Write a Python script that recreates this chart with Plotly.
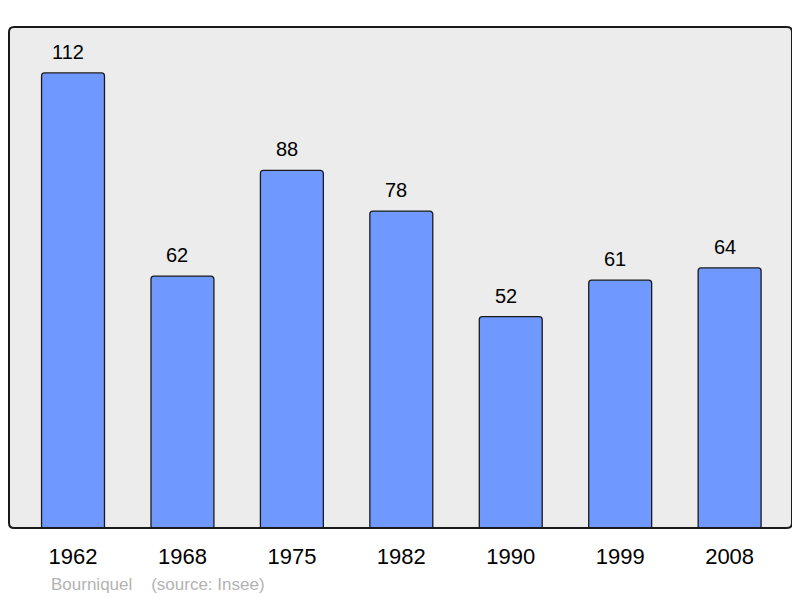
import plotly.graph_objects as go

years = ["1962", "1968", "1975", "1982", "1990", "1999", "2008"]
population = [112, 62, 88, 78, 52, 61, 64]
footer_text = "Bourniquel    (source: Insee)"

# the page body has an 8px margin, so the figure is drawn 8px smaller/shifted
OFF = 8
W, H = 800 - OFF, 598 - OFF
L, T = 9 - OFF, 27 - OFF
R = 800 - 792
B = 598 - 528
plot_w = W - L - R
plot_h = H - T - B

idx = list(range(len(years)))
FONT = "Liberation Sans, Arial, sans-serif"

fig = go.Figure()
fig.add_trace(go.Bar(
    x=idx, y=population,
    width=0.575,
    marker=dict(color="#7099ff", line=dict(color="#1a1a1a", width=1.3), cornerradius=3),
    hovertext=years, hoverinfo="text+y",
))

for i, v in zip(idx, population):
    fig.add_annotation(x=i, y=v, text=str(v), showarrow=False, yanchor="bottom",
                       yshift=8, xshift=-5, font=dict(size=20, color="#000000", family=FONT))

fig.add_annotation(xref="paper", yref="paper", x=(49 - 9) / plot_w, y=-(584 - 528) / plot_h,
                   xanchor="left", yanchor="middle", showarrow=False, text=footer_text,
                   font=dict(size=17, color="#b3b3b3", family=FONT))

# rounded frame (paper coordinates)
rad = 5
rx, ry = rad / plot_w, rad / plot_h
frame = (f"M {rx},0 L {1-rx},0 Q 1,0 1,{ry} L 1,{1-ry} Q 1,1 {1-rx},1 "
         f"L {rx},1 Q 0,1 0,{1-ry} L 0,{ry} Q 0,0 {rx},0 Z")
fig.add_shape(type="path", xref="paper", yref="paper", path=frame,
              line=dict(width=0), fillcolor="#ececec", layer="below")
fig.add_shape(type="path", xref="paper", yref="paper", path=frame,
              line=dict(color="#1a1a1a", width=2), fillcolor="rgba(0,0,0,0)", layer="above")

fig.update_layout(
    width=W, height=H,
    margin=dict(l=L, r=R, t=T, b=B, pad=0),
    paper_bgcolor="#ffffff",
    plot_bgcolor="rgba(0,0,0,0)",
    showlegend=False,
    font=dict(family=FONT, size=18, color="#000000"),
    xaxis=dict(range=[-0.585, 6.57], showgrid=False, zeroline=False,
               tickvals=idx, ticktext=years,
               ticks="outside", ticklen=9, tickcolor="rgba(0,0,0,0)",
               tickfont=dict(size=22, color="#000000", family=FONT), showline=False),
    yaxis=dict(range=[0, 123.3], showgrid=False, zeroline=False, showticklabels=False,
               ticks="", showline=False),
)

fig.write_html("out.html")
